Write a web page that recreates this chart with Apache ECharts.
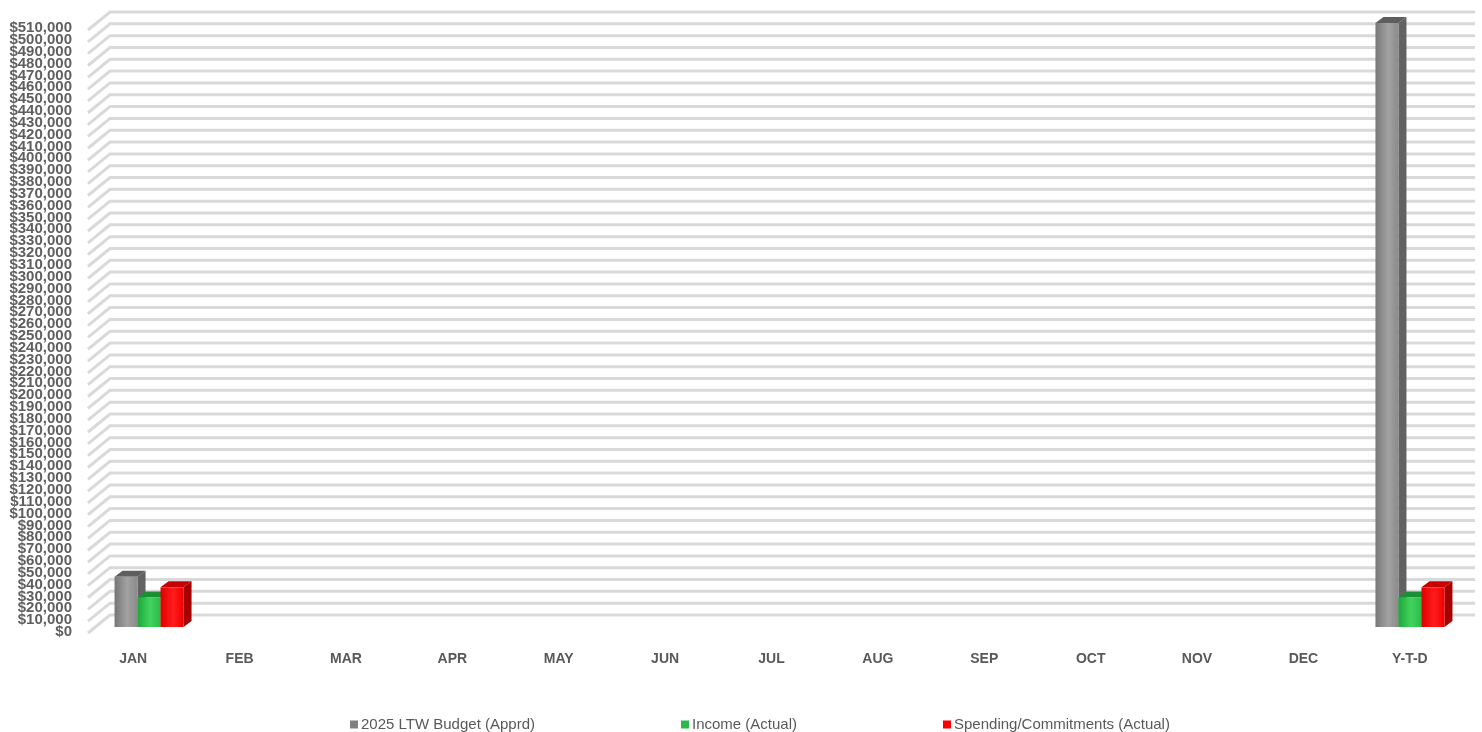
<!DOCTYPE html>
<html>
<head>
<meta charset="utf-8">
<style>
  html, body { margin: 0; padding: 0; background: #ffffff; }
  #chart { width: 1482px; height: 732px; }
</style>
<script src="https://cdn.jsdelivr.net/npm/echarts@6/dist/echarts.min.js"></script>
</head>
<body>
<div id="chart"></div>
<script>
// categories and values
const months = ['JAN', 'FEB', 'MAR', 'APR', 'MAY', 'JUN', 'JUL', 'AUG', 'SEP', 'OCT', 'NOV', 'DEC', 'Y-T-D'];
const budget = [42500, null, null, null, null, null, null, null, null, null, null, null, 510000];
const income = [25000, null, null, null, null, null, null, null, null, null, null, null, 25000];
const spending = [33500, null, null, null, null, null, null, null, null, null, null, null, 33500];
const seriesNames = ['2025 LTW Budget (Apprd)', 'Income (Actual)', 'Spending/Commitments (Actual)'];

const yMin = 0;
const yMax = 510000;
const yStep = 10000;
const yTicks = [];
for (let v = yMin; v <= yMax; v += yStep) {
    yTicks.push(v);
}

const labelColor = '#595959';
const wallLine = '#d9d9d9';
const depthX = 8;
const depthY = -6;
const barW = 23;

// face colours per series: front gradient stops, top, side
const faces = [
    { front: ['#767676', '#a2a2a2', '#8a8a8a'], top: '#5e5e5e', side: '#626262', legend: '#7f7f7f' },
    { front: ['#1ea83a', '#41d35e', '#2cbc49'], top: '#1a8f33', side: '#168a2e', legend: '#2db84a' },
    { front: ['#e00000', '#ff1c1c', '#f20000'], top: '#c80000', side: '#a60000', legend: '#ff0000' }
];

function frontFill(f) {
    return new echarts.graphic.LinearGradient(0, 0, 1, 0, [
        { offset: 0, color: f[0] },
        { offset: 0.55, color: f[1] },
        { offset: 1, color: f[2] }
    ]);
}

function money(v) {
    return '$' + v.toLocaleString('en-US');
}

function barRenderer(s) {
    return function (params, api) {
        const v = api.value(1);
        if (v == null || isNaN(v)) {
            return null;
        }
        const base = api.coord([api.value(0), 0]);
        const top = api.coord([api.value(0), v]);
        const x0 = base[0] - 1.5 * barW + s * barW;
        const x1 = x0 + barW;
        const yb = base[1];
        const yt = top[1];
        const c = faces[s];
        return {
            type: 'group',
            children: [
                {
                    type: 'polygon',
                    shape: { points: [[x1, yb], [x1 + depthX, yb + depthY], [x1 + depthX, yt + depthY], [x1, yt]] },
                    style: { fill: c.side }
                },
                {
                    type: 'polygon',
                    shape: { points: [[x0, yt], [x1, yt], [x1 + depthX, yt + depthY], [x0 + depthX, yt + depthY]] },
                    style: { fill: c.top }
                },
                {
                    type: 'rect',
                    shape: { x: x0, y: yt, width: barW, height: yb - yt },
                    style: { fill: frontFill(c.front) }
                }
            ]
        };
    };
}

function wallRenderer(params, api) {
    const y = api.coord([0, api.value(0)])[1];
    const xs = params.coordSys.x;
    const xe = params.coordSys.x + params.coordSys.width;
    return {
        type: 'polyline',
        shape: { points: [[xs - 22, y + 18], [xs, y], [xe, y]] },
        style: { stroke: wallLine, lineWidth: 3, fill: null },
        silent: true
    };
}

// value labels drawn one per tick so that none get dropped for overlapping
function tickLabelRenderer(params, api) {
    const v = api.value(0);
    const y = api.coord([0, v])[1];
    return {
        type: 'text',
        x: params.coordSys.x - 8,
        y: y,
        style: {
            text: money(v),
            fill: '#5f5f5f',
            font: 'bold 15px "Liberation Sans", Arial, sans-serif',
            align: 'right',
            verticalAlign: 'middle'
        },
        silent: true
    };
}

const chart = echarts.init(document.getElementById('chart'));

const barSeries = [budget, income, spending].map(function (arr, s) {
    return {
        name: seriesNames[s],
        type: 'custom',
        xAxisIndex: 0,
        yAxisIndex: 0,
        renderItem: barRenderer(s),
        itemStyle: { color: faces[s].legend },
        encode: { x: 0, y: 1 },
        data: arr.map(function (v, i) { return [i, v]; }),
        z: 3
    };
});

chart.setOption({
    backgroundColor: '#ffffff',
    animation: false,
    textStyle: { fontFamily: '"Liberation Sans", Arial, sans-serif' },
    legend: {
        data: seriesNames,
        left: 345,
        top: 712,
        icon: 'rect',
        itemWidth: 8,
        itemHeight: 8,
        itemGap: 146,
        textStyle: { color: labelColor, fontSize: 15, padding: [0, 0, 0, -2] }
    },
    grid: [
        // bar plane
        { left: 96.5, right: 19.5, top: 23, bottom: 105 },
        // back wall
        { left: 110, right: 7, top: 12, bottom: 117 },
        // front labels
        { left: 80, right: 19, top: 28, bottom: 100 }
    ],
    xAxis: [
        { type: 'category', gridIndex: 0, data: months, show: false },
        { type: 'category', gridIndex: 1, data: months, show: false },
        {
            type: 'category', gridIndex: 2, data: months,
            axisLine: { show: false }, axisTick: { show: false },
            axisLabel: { color: labelColor, fontSize: 14, fontWeight: 'bold', margin: 20 }
        }
    ],
    yAxis: [
        { type: 'value', gridIndex: 0, min: yMin, max: yMax, interval: yStep, show: false },
        { type: 'value', gridIndex: 1, min: yMin, max: yMax, interval: yStep, show: false },
        {
            type: 'value', gridIndex: 2, min: yMin, max: yMax, interval: yStep,
            splitLine: { show: false }, axisLine: { show: false }, axisTick: { show: false },
            axisLabel: { show: false }
        }
    ],
    series: [
        {
            type: 'custom',
            xAxisIndex: 1,
            yAxisIndex: 1,
            renderItem: wallRenderer,
            encode: { y: 0 },
            data: yTicks.map(function (v) { return [v]; }),
            silent: true,
            z: 1
        },
        {
            type: 'custom',
            xAxisIndex: 2,
            yAxisIndex: 2,
            renderItem: tickLabelRenderer,
            encode: { y: 0 },
            data: yTicks.map(function (v) { return [v]; }),
            silent: true,
            z: 2
        }
    ].concat(barSeries)
});
</script>
</body>
</html>
